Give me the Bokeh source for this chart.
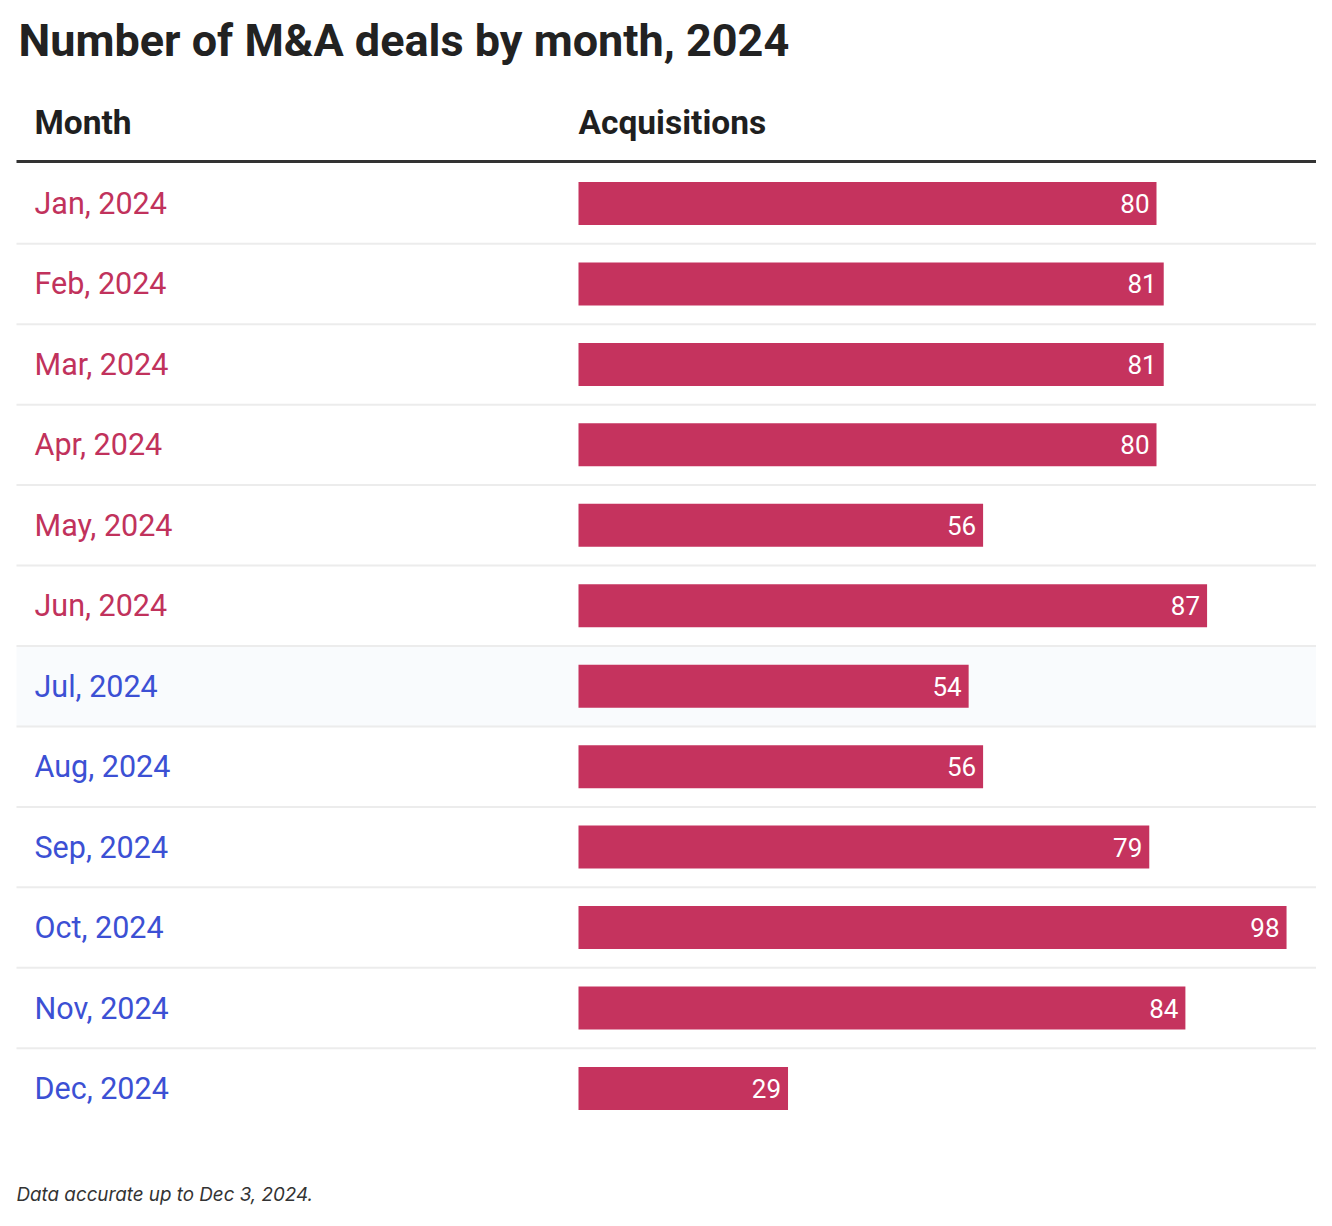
from bokeh.plotting import figure
from bokeh.models import Range1d, ColumnDataSource
from bokeh.core.properties import value
from bokeh.embed import file_html
from bokeh.resources import INLINE

# ---- data ----
months = ["Jan, 2024", "Feb, 2024", "Mar, 2024", "Apr, 2024", "May, 2024", "Jun, 2024",
          "Jul, 2024", "Aug, 2024", "Sep, 2024", "Oct, 2024", "Nov, 2024", "Dec, 2024"]
acquisitions = [80, 81, 81, 80, 56, 87, 54, 56, 79, 98, 84, 29]
title_text = "Number of M&A deals by month, 2024"
col_headers = ["Month", "Acquisitions"]
footnote = "Data accurate up to Dec 3, 2024."

# ---- layout helpers ----
W, H = 1316, 1210
PX_PER_UNIT = 7.225
BAR_X0_PX = 578
ROW0_PX = 203
ROW_H = 80.45

def dx(px):
    return (px - BAR_X0_PX) / PX_PER_UNIT

def dy(py):
    return (py - ROW0_PX) / ROW_H

p = figure(width=W, height=H, output_backend="svg", toolbar_location=None,
           x_range=Range1d(dx(0), dx(W)), y_range=Range1d(dy(H), dy(0)),
           min_border=0, outline_line_color=None, background_fill_color="white",
           border_fill_color="white")
p.axis.visible = False
p.grid.visible = False

n = len(months)
idx = list(range(n))
red = "#c5335e"
label_red = "#c1325c"
label_blue = "#3c50d4"

# highlighted (hover) row background for Jul
p.hbar(y=[6], left=dx(16), right=dx(1330), height=1, fill_color="#f9fbfd", line_color=None)

# row separators
seps = [i + 0.5 for i in idx[:-1]]
p.segment(x0=[dx(16)] * len(seps), x1=[dx(1330)] * len(seps), y0=seps, y1=seps,
          line_color="#ececec", line_width=2)
# header rule
p.segment(x0=[dx(16)], x1=[dx(1330)], y0=[dy(161)], y1=[dy(161)],
          line_color="#333333", line_width=3)

src = ColumnDataSource(dict(
    y=idx, v=acquisitions, m=months, lbl=[str(a) for a in acquisitions],
    col=[label_red if i < 6 else label_blue for i in idx],
))

p.hbar(y="y", left=0, right="v", height=0.535, fill_color=red, line_color=None, source=src)

p.text(x="v", y="y", text="lbl", source=src, x_offset=-7, text_align="right",
       text_baseline="middle", text_color="white", text_font=value("Roboto"),
       text_font_size="26px")

p.text(x=dx(0), y="y", text="m", source=src, x_offset=34, text_align="left",
       text_baseline="middle", text_color="col", text_font=value("Roboto"),
       text_font_size="30.5px")

# column headers
p.text(x=[dx(0), 0], y=[dy(122), dy(122)], text=col_headers, x_offset=[34, 0],
       text_align="left", text_baseline="middle", text_color="#1f1f1f",
       text_font=value("Roboto"), text_font_style="bold", text_font_size="33.5px")

# title
p.text(x=[dx(0)], y=[dy(40)], text=[title_text], x_offset=18, text_align="left",
       text_baseline="middle", text_color="#222222", text_font=value("Roboto"),
       text_font_style="bold", text_font_size="45px")

# footnote
p.text(x=[dx(0)], y=[dy(1194)], text=[footnote], x_offset=16, text_align="left",
       text_baseline="middle", text_color="#333333", text_font=value("Inter"),
       text_font_style="italic", text_font_size="18.8px")

open("out.html", "w").write(file_html(p, INLINE))
